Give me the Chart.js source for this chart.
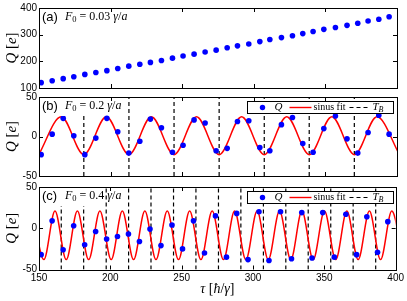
<!DOCTYPE html>
<html>
<head>
<meta charset="utf-8">
<script src="https://cdn.jsdelivr.net/npm/chart.js@4.4.1/dist/chart.umd.min.js"></script>
<style>
  html, body { margin: 0; padding: 0; background: #fff; }
  #wrap { position: relative; width: 407px; height: 301px; overflow: hidden; }
  .panel { position: absolute; left: 0; width: 407px; }
</style>
</head>
<body>
<div id="wrap">
  <div class="panel" style="top:0;height:96px"><canvas id="chartA"></canvas></div>
  <div class="panel" style="top:88px;height:96px"><canvas id="chartB"></canvas></div>
  <div class="panel" style="top:178px;height:123px"><canvas id="chartC"></canvas></div>
</div>
<script>
    "use strict";

    // Shared time axis
    var tauMin = 150, tauMax = 400;
    var tauTicks = [150, 200, 250, 300, 350, 400];

    // Times of the Q samples (same in every panel)
    var tauDots = [151.5, 159.2, 166.9, 174.3, 182.0, 189.7, 197.4, 205.0, 212.7, 220.4, 227.8,
        235.5, 243.2, 250.6, 258.3, 266.0, 273.7, 281.4, 288.6, 296.5, 304.2, 311.2,
        319.3, 327.0, 334.2, 341.4, 348.9, 357.0, 365.1, 372.6, 379.8, 387.3, 394.5];

    // (a) F0 = 0.03
    var qA = [120, 127, 135, 142, 151, 158, 165, 173, 182, 189, 196, 203, 212, 220, 227, 235, 242,
        251, 258, 265, 274, 282, 289, 296, 304, 312, 320, 327, 335, 343, 351, 358, 367];
    var yTicksA = [100, 200, 300, 400];

    // (b) F0 = 0.2
    var qB = [-23, 3, 23, 1, -23, -2, 23, 6, -21, -6, 22, 11, -20, -11, 21, 17, -18,
        -15, 19, 20, -14, -18, 15, 24, -9, -20, 10, 26, -3, -21, 5, 27, 3];
    var fitTauB = [149.8, 165.5, 181.3, 197.0, 212.8, 228.5, 244.3, 260.0, 275.8,
        291.5, 307.3, 323.0, 338.8, 354.5, 370.3, 386.0, 401.8];
    var fitQB = [-23, 25, -23, 25, -23, 25, -23, 25, -23, 25, -23, 25, -23, 25, -23, 25, -23];
    var blochB = [181.3, 212.8, 244.3, 275.8, 307.3, 338.7, 370.2];

    // (c) F0 = 0.4
    var qC = [-32, 9, -26, 3, -20, -4, -13, -10, -7, -16, -1, -21, 4, -25, 9, -30, 15,
        -35, 18, -38, 20, -39, 20, -37, 19, -36, 19, -35, 17, -32, 14, -29, 8];
    var fitTauC = [145.5, 153.4, 161.2, 169.1, 176.9, 184.8, 192.7, 200.6, 208.4, 216.3, 224.2,
        232.0, 239.9, 247.8, 255.6, 263.5, 271.4, 279.3, 287.1, 295.0, 302.9, 310.7, 318.6,
        326.5, 334.3, 342.2, 350.1, 358.0, 365.8, 373.7, 381.6, 389.4, 397.3, 405.2];
    var fitQC = [21, -38, 21, -38, 21, -38, 21, -38, 21, -38, 21, -38, 21, -38, 21, -38, 21,
        -38, 21, -38, 21, -38, 21, -38, 21, -38, 21, -38, 21, -38, 21, -38, 21, -38];
    var blochC = [165.6, 181.3, 197.1, 212.8, 228.5, 244.3, 260.0, 275.8, 291.5, 307.3,
        323.0, 338.7, 354.5, 370.2, 386.0];

    var yTicksQ = [-50, 0, 50];

    var SERIF = '"Liberation Serif", "DejaVu Serif", serif';
    var SANS = '"Liberation Sans", Arial, sans-serif';

    // draw a row of text pieces [text, font, dy, extraGap], returns width
    function rich(ctx, parts, x, y, measureOnly) {
        var cx = x;
        parts.forEach(function (p) {
            ctx.font = p[1];
            if (!measureOnly) ctx.fillText(p[0], cx, y + (p[2] || 0));
            cx += ctx.measureText(p[0]).width + (p[3] || 0);
        });
        return cx - x;
    }

    function it(size) { return 'italic ' + size + 'px ' + SERIF; }
    function up(size) { return size + 'px ' + SERIF; }

    // Frame, inward ticks, labels and legend
    var framePlugin = {
        id: 'frame',
        afterDatasetsDraw: function (chart, args, opts) {
            var ctx = chart.ctx, a = chart.chartArea;
            var xs = chart.scales.x, ys = chart.scales.y;
            ctx.save();

            // white patch behind the panel label (hides the T_B lines there)
            ctx.fillStyle = '#fff';
            ctx.fillRect(a.left + 1, a.top + 1, 52, 18);

            ctx.strokeStyle = '#000';
            ctx.fillStyle = '#000';
            ctx.lineWidth = 1;
            ctx.setLineDash([]);
            ctx.beginPath();
            tauTicks.forEach(function (v) {
                var px = Math.round(xs.getPixelForValue(v)) + 0.5;
                ctx.moveTo(px, a.bottom); ctx.lineTo(px, a.bottom - 4);
                ctx.moveTo(px, a.top); ctx.lineTo(px, a.top + 4);
            });
            ys.ticks.forEach(function (t) {
                var py = Math.round(ys.getPixelForValue(t.value)) + 0.5;
                ctx.moveTo(a.left, py); ctx.lineTo(a.left + 4, py);
                ctx.moveTo(a.right, py); ctx.lineTo(a.right - 4, py);
            });
            ctx.stroke();
            ctx.strokeRect(Math.round(a.left) + 0.5, Math.round(a.top) + 0.5,
                Math.round(a.right - a.left), Math.round(a.bottom - a.top));

            // panel label
            ctx.textBaseline = 'middle';
            ctx.textAlign = 'left';
            ctx.font = '13px ' + SANS;
            ctx.fillText(opts.label, a.left + 3, a.top + 9);
            rich(ctx, [['F', it(12)], ['0', up(8.5), 3, 3], ['= ' + opts.f0 + ' ', up(12)],
                ['γ', it(12)], ['/', up(12)], ['a', it(12)]], a.left + 26, a.top + 9);

            // y title
            var yParts = [['Q', it(15)], [' [', up(15)], ['e', it(15)], [']', up(15)]];
            ctx.save();
            ctx.translate(12, (a.top + a.bottom) / 2);
            ctx.rotate(-Math.PI / 2);
            var w = rich(ctx, yParts, 0, 0, true);
            rich(ctx, yParts, -w / 2, 0);
            ctx.restore();

            // x title
            if (opts.xTitle) {
                var xParts = [['τ', it(14)], [' [', up(14)], ['ħ', it(14)], ['/', up(14)],
                    ['γ', it(14)], [']', up(14)]];
                var wx = rich(ctx, xParts, 0, 0, true);
                rich(ctx, xParts, (a.left + a.right) / 2 - wx / 2, chart.height - 12);
            }

            // legend box
            if (opts.legend) {
                var bx = 247.5, by = Math.round(a.top) + 4.5, bw = 146, bh = 12;
                var cy = by + bh / 2;
                ctx.fillStyle = '#fff';
                ctx.fillRect(bx, by, bw, bh);
                ctx.strokeRect(bx, by, bw, bh);
                ctx.fillStyle = '#0000ff';
                ctx.beginPath();
                ctx.arc(bx + 15, cy, 2.7, 0, Math.PI * 2);
                ctx.fill();
                ctx.fillStyle = '#000';
                rich(ctx, [['Q', it(11)]], bx + 27, cy);
                ctx.strokeStyle = '#ff0000';
                ctx.lineWidth = 1.4;
                ctx.beginPath(); ctx.moveTo(bx + 42, cy); ctx.lineTo(bx + 64, cy); ctx.stroke();
                rich(ctx, [['sinus fit', up(10)]], bx + 66, cy);
                ctx.strokeStyle = '#000';
                ctx.lineWidth = 1.2;
                ctx.setLineDash([4, 3]);
                ctx.beginPath(); ctx.moveTo(bx + 102, cy); ctx.lineTo(bx + 122, cy); ctx.stroke();
                ctx.setLineDash([]);
                rich(ctx, [['T', it(11)], ['B', it(8), 2.5]], bx + 125, cy);
            }
            ctx.restore();
        }
    };

    function dots(q) {
        return {
            data: tauDots.map(function (t, i) { return { x: t, y: q[i] }; }),
            showLine: false,
            pointRadius: 2.8,
            pointBackgroundColor: '#0000ff',
            pointBorderWidth: 0
        };
    }

    function fitLine(ts, qs) {
        return {
            data: ts.map(function (t, i) { return { x: t, y: qs[i] }; }),
            borderColor: '#ff0000',
            borderWidth: 1.5,
            pointRadius: 0,
            cubicInterpolationMode: 'monotone'
        };
    }

    function bloch(ts) {
        var pts = [];
        ts.forEach(function (t) {
            pts.push({ x: t, y: -50 }, { x: t, y: 50 }, { x: t, y: null });
        });
        return {
            data: pts,
            borderColor: '#000',
            borderWidth: 1.2,
            borderDash: [4, 3],
            pointRadius: 0,
            spanGaps: false
        };
    }

    function options(yMin, yMax, yTicks, showX, pad, frame) {
        return {
            responsive: true,
            maintainAspectRatio: false,
            animation: false,
            layout: { padding: pad },
            plugins: { legend: { display: false }, tooltip: { enabled: false }, frame: frame },
            scales: {
                x: {
                    type: 'linear', min: tauMin, max: tauMax, display: showX,
                    afterBuildTicks: function (s) { s.ticks = tauTicks.map(function (v) { return { value: v }; }); },
                    afterFit: function (s) { if (showX) s.height = 31.5; },
                    grid: { display: false, drawTicks: false },
                    border: { display: false },
                    ticks: { color: '#000', font: { family: SANS, size: 10 }, padding: 3, maxRotation: 0, autoSkip: false }
                },
                y: {
                    type: 'linear', min: yMin, max: yMax,
                    afterBuildTicks: function (s) { s.ticks = yTicks.map(function (v) { return { value: v }; }); },
                    afterFit: function (s) { s.width = 39; },
                    grid: { display: false, drawTicks: false },
                    border: { display: false },
                    ticks: { color: '#000', font: { family: SANS, size: 10 }, padding: 2 }
                }
            }
        };
    }

    // Panel (a)
    new Chart(document.getElementById('chartA'), {
        type: 'line',
        data: { datasets: [dots(qA)] },
        options: options(100, 400, yTicksA, false, { top: 7, bottom: 8, left: 0, right: 10 },
            { label: '(a)', f0: '0.03', legend: false }),
        plugins: [framePlugin]
    });

    // Panel (b)
    new Chart(document.getElementById('chartB'), {
        type: 'line',
        data: { datasets: [dots(qB), fitLine(fitTauB, fitQB), bloch(blochB)] },
        options: options(-50, 50, yTicksQ, false, { top: 9, bottom: 6, left: 0, right: 10 },
            { label: '(b)', f0: '0.2', legend: true }),
        plugins: [framePlugin]
    });

    // Panel (c)
    new Chart(document.getElementById('chartC'), {
        type: 'line',
        data: { datasets: [dots(qC), fitLine(fitTauC, fitQC), bloch(blochC)] },
        options: options(-50, 50, yTicksQ, true, { top: 9, bottom: 0, left: 0, right: 10 },
            { label: '(c)', f0: '0.4', legend: true, xTitle: true }),
        plugins: [framePlugin]
    });
</script>
</body>
</html>
